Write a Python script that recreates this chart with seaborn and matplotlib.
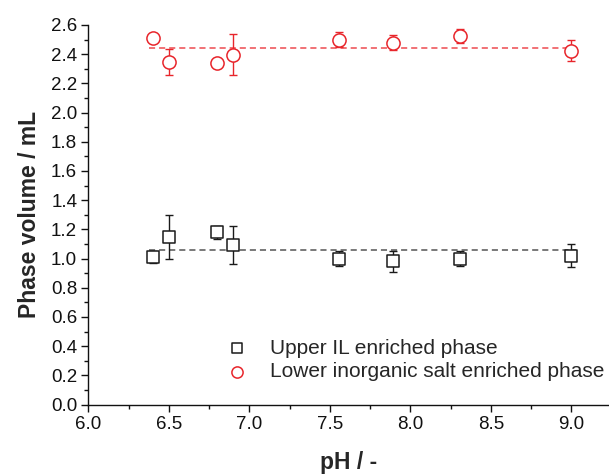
import matplotlib
matplotlib.use("Agg")
import matplotlib.pyplot as plt
from matplotlib.ticker import MultipleLocator, FormatStrFormatter
import seaborn as sns
import pandas as pd

# pH values of the measured systems
ph = [6.4, 6.5, 6.8, 6.9, 7.56, 7.89, 8.31, 9.0]

# Upper (IL-rich) phase volume and standard deviations, mL
upper_vol = [1.01, 1.15, 1.18, 1.09, 1.00, 0.98, 1.00, 1.02]
upper_err = [0.04, 0.15, 0.045, 0.13, 0.05, 0.07, 0.05, 0.08]
upper_mean = 1.06

# Lower (salt-rich) phase volume and standard deviations, mL
lower_vol = [2.51, 2.345, 2.34, 2.395, 2.50, 2.48, 2.525, 2.425]
lower_err = [0.01, 0.09, 0.01, 0.14, 0.053, 0.053, 0.045, 0.073]
lower_mean = 2.44

labels = ["Upper IL enriched phase", "Lower inorganic salt enriched phase"]

sns.set_style("ticks")
plt.rcParams["font.family"] = ["Liberation Sans", "DejaVu Sans"]

df = pd.concat([
    pd.DataFrame({"pH": ph, "vol": upper_vol, "err": upper_err, "phase": labels[0]}),
    pd.DataFrame({"pH": ph, "vol": lower_vol, "err": lower_err, "phase": labels[1]}),
], ignore_index=True)

W, H = 609, 474
fig = plt.figure(figsize=(W / 100, H / 100), dpi=100)
left, bottom, top = 88.3, 404.5, 25.0
ax = fig.add_axes([left / W, 1 - bottom / H, 1 - left / W, (bottom - top) / H])

black = "#1a1a1a"
red = "#e8252b"
colors = [black, red]
markers = ["s", "o"]
sizes = [64, 90]

# mean lines
ax.hlines(upper_mean, 6.38, 9.03, colors="#555555", linestyles=(0, (4, 2.6)), lw=1.1, zorder=1)
ax.hlines(lower_mean, 6.38, 9.03, colors="#ee4a4f", linestyles=(0, (4, 2.6)), lw=1.1, zorder=1)

for lab, col, mk, sz in zip(labels, colors, markers, sizes):
    sub = df[df.phase == lab]
    ax.errorbar(sub.pH, sub.vol, yerr=sub.err, fmt="none", ecolor=col,
                elinewidth=1.0, capsize=3, capthick=1.0, zorder=2)
    sns.scatterplot(x=sub.pH, y=sub.vol, marker=mk, s=sz, facecolor="white",
                    edgecolor=col, linewidth=1.1, ax=ax, zorder=3, label=lab)

ax.set_xlim(6.0, 6.0 + (W - left) / 161.0)
ax.set_ylim(0.0, 2.6)
ax.xaxis.set_major_locator(MultipleLocator(0.5))
ax.xaxis.set_minor_locator(MultipleLocator(0.25))
ax.yaxis.set_major_locator(MultipleLocator(0.2))
ax.yaxis.set_minor_locator(MultipleLocator(0.1))
ax.xaxis.set_major_formatter(FormatStrFormatter("%.1f"))
ax.yaxis.set_major_formatter(FormatStrFormatter("%.1f"))
ax.tick_params(which="major", direction="out", length=5, width=1.0,
               labelsize=13.5, colors="#111111", pad=3)
ax.tick_params(which="minor", direction="out", length=3, width=1.0, colors="#111111")
for s in ["top", "right"]:
    ax.spines[s].set_visible(False)
for s in ["left", "bottom"]:
    ax.spines[s].set_linewidth(1.0)
    ax.spines[s].set_color("#111111")

ax.set_xlabel("pH / -", fontsize=16.5, fontweight="bold", labelpad=13)
ax.set_ylabel("Phase volume / mL", fontsize=16.5, fontweight="bold", labelpad=7)

ax.legend(loc="center left", bbox_to_anchor=(226.6 / W, 1 - 360 / H),
          bbox_transform=fig.transFigure, frameon=False, fontsize=15,
          handlelength=1.0, handletextpad=1.09, labelspacing=0.2,
          markerscale=0.85, borderpad=0, borderaxespad=0)

fig.savefig("out.png", dpi=100)
